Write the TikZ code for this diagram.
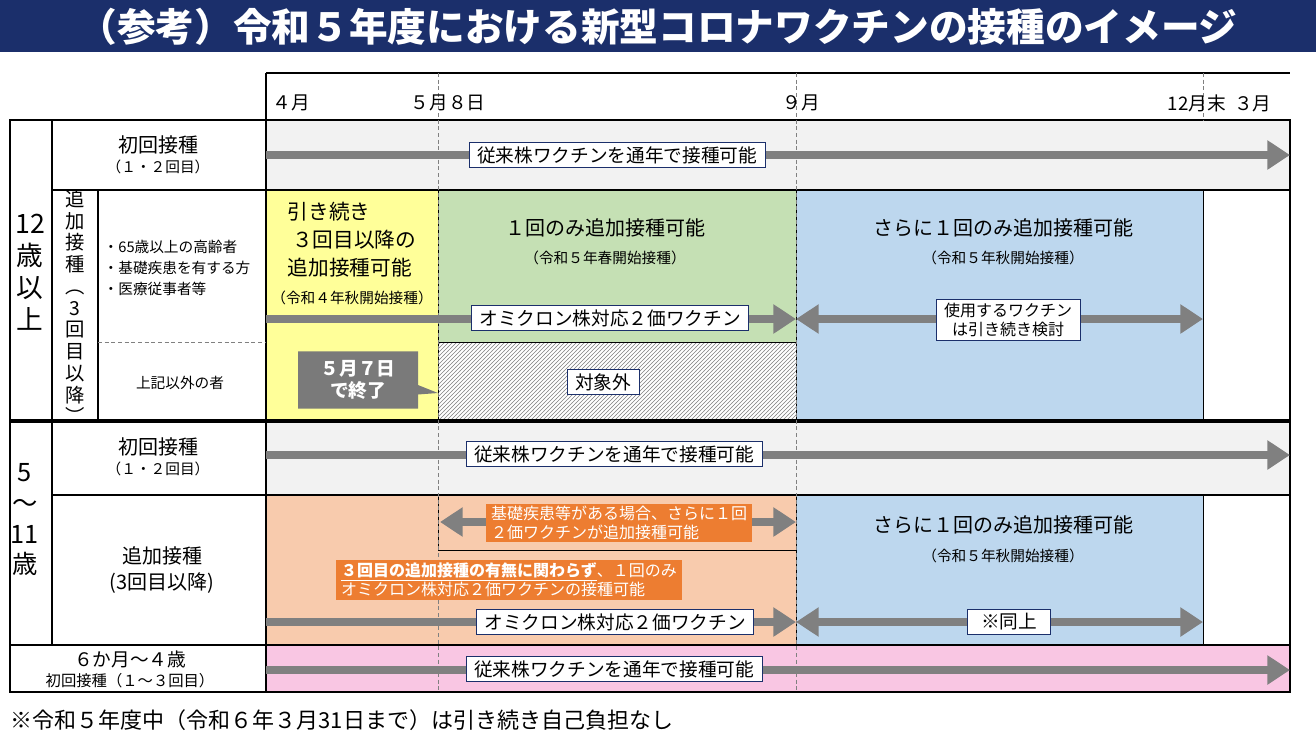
\documentclass[tikz,border=0pt]{standalone}
\usepackage{fontspec}
\setmainfont{Noto Sans CJK JP}
\usetikzlibrary{arrows.meta,patterns,shapes.callouts}
\definecolor{navy}{HTML}{1B2F6B}
\definecolor{lgray}{HTML}{F2F2F2}
\definecolor{ayel}{HTML}{FFFF99}
\definecolor{agrn}{HTML}{C5E0B4}
\definecolor{ablu}{HTML}{BDD7EE}
\definecolor{aorg}{HTML}{F8CBAD}
\definecolor{dorg}{HTML}{ED7D31}
\definecolor{apnk}{HTML}{F9C6E3}
\definecolor{agry}{HTML}{808080}
\tikzset{
  flow/.style={draw=agry,line width=5.5pt,-{Triangle[length=17pt,width=21pt]}},
  flows/.style={draw=agry,line width=5.5pt,{Triangle[length=17pt,width=21pt]}-{Triangle[length=17pt,width=21pt]}},
  lbl/.style={draw=navy,fill=white,inner xsep=6pt,inner ysep=3pt,font=\fontsize{14}{16}\selectfont},
  obox/.style={fill=dorg,text=white,inner xsep=4pt,inner ysep=2pt,align=left,font=\fontsize{12}{14}\selectfont},
  txt/.style={font=\fontsize{14}{17}\selectfont,align=center},
  sml/.style={font=\fontsize{11}{13}\selectfont,align=center},
  grid/.style={line width=1pt},
  tick/.style={densely dashed,line width=.5pt,draw=agry}
}
\begin{document}
\begin{tikzpicture}[x=0.75pt,y=-0.75pt]
  \useasboundingbox (0,0) rectangle (1316,739);
  % title
  \fill[navy] (0,0) rectangle (1316,52);
  \node (title) [text=white,font=\fontsize{29}{30}\selectfont\bfseries] at (658,27)
    {（参考）令和５年度における新型コロナワクチンの接種のイメージ};
  % coloured areas
  \fill[lgray] (266,120) rectangle (1290,190);
  \fill[ayel] (266,190) rectangle (438,420);
  \fill[agrn] (438,190) rectangle (796,342);
  \fill[ablu] (796,190) rectangle (1203,420);
  \fill[lgray] (266,422) rectangle (1290,495);
  \fill[aorg] (266,495) rectangle (796,645);
  \fill[ablu] (796,495) rectangle (1203,645);
  \fill[apnk] (266,645) rectangle (1290,692);
  \fill[white] (438,342) rectangle (796,420);
  \fill[pattern=north east lines,pattern color=agry] (438,342) rectangle (796,420);
  \draw[line width=.6pt] (438,342) rectangle (796,420);
  \draw[line width=.6pt] (438,190) rectangle (796,342);
  \draw[line width=.6pt] (796,190) rectangle (1203,420);
  \draw[line width=.6pt] (266,190) rectangle (438,420);
  \draw[line width=.6pt] (438,495) rectangle (796,550);
  \draw[line width=.6pt] (796,495) rectangle (1203,645);
  % grid
  \draw[grid] (266,73) -- (1290,73) (266,73) -- (266,120);
  \draw[grid] (10,120) rectangle (1290,692);
  \draw[grid] (10,120) -- (266,120) (10,420) -- (1290,420) (10,422) -- (1290,422);
  \draw[grid] (52,190) -- (1290,190) (52,495) -- (1290,495) (10,645) -- (1290,645);
  \draw[grid] (52,120) -- (52,645) (266,120) -- (266,692) (98,190) -- (98,420);
  \draw[densely dashed,agry] (98,342) -- (266,342);
  \foreach \x in {438,796} \draw[tick] (\x,73) -- (\x,692);
  \draw[tick] (1203,73) -- (1203,120);
  % months
  \foreach \x/\m in {268/４月,406/５月８日,778/９月,1163/12月末\ \ ３月}
    \node[txt,anchor=west] at (\x,103) {\m};
  % left labels
  \node (a12) [font=\fontsize{20}{24}\selectfont,align=center] at (30,272) {12\\歳\\以\\上};
  \node (a5) [font=\fontsize{19}{23}\selectfont,align=center] at (25,520) {5\\～\\11\\歳};
  \node (r1) [txt,font=\fontsize{15}{17}\selectfont] at (158,155) {初回接種\\[-2pt]{\fontsize{11}{12}\selectfont（１・２回目）}};
  \node (r3) [txt,font=\fontsize{15}{17}\selectfont] at (158,457) {初回接種\\[-2pt]{\fontsize{11}{12}\selectfont（１・２回目）}};
  \node (r2) [font=\fontsize{14.5}{16.3}\selectfont,align=center] at (75,307) {追\\加\\接\\種\\︵\\3\\回\\目\\以\\降\\︶};
  \node (tgt) [font=\fontsize{11}{16}\selectfont,align=left,anchor=west] at (99,268)
    {・65歳以上の高齢者\\・基礎疾患を有する方\\・医療従事者等};
  \node (oth) [sml] at (180,383) {上記以外の者};
  \node (r4) [txt,font=\fontsize{15}{19}\selectfont] at (162,570) {追加接種\\(3回目以降)};
  \node (r5) [txt] at (130,669) {６か月～４歳\\[-2pt]{\fontsize{11.5}{12}\selectfont 初回接種（１～３回目）}};
  % area texts
  \node (ylw) [font=\fontsize{15.5}{21}\selectfont,align=left] at (352,240) {引き続き\\\ ３回目以降の\\追加接種可能};
  \node [sml] at (352,298) {（令和４年秋開始接種）};
  \node (grn) [font=\fontsize{15}{17}\selectfont] at (605,228) {１回のみ追加接種可能};
  \node [sml] at (605,258) {（令和５年春開始接種）};
  \node (blu) [font=\fontsize{15}{17}\selectfont] at (1003,228) {さらに１回のみ追加接種可能};
  \node [sml] at (1003,258) {（令和５年秋開始接種）};
  \node (blu2) [font=\fontsize{15}{17}\selectfont] at (1003,525) {さらに１回のみ追加接種可能};
  \node [sml] at (1003,556) {（令和５年秋開始接種）};
  % arrows
  \coordinate (s1) at (266,155); \coordinate (e1) at (1290,155);
  \draw[flow] (s1) -- (e1);
  \node (l1) [lbl] at (617,155) {従来株ワクチンを通年で接種可能};
  \coordinate (s2) at (266,319); \coordinate (m2) at (796,319); \coordinate (e2) at (1203,319);
  \draw[flow] (s2) -- (m2);
  \draw[flows] (m2) -- (e2);
  \node (l2) [lbl] at (610,318) {オミクロン株対応２価ワクチン};
  \node (l2b) [lbl,align=center,font=\fontsize{12}{14}\selectfont] at (1008,320) {使用するワクチン\\は引き続き検討};
  \node (end) [rectangle callout,fill=agry!95!black,text=white,font=\fontsize{14}{17}\selectfont\bfseries,
    align=center,minimum width=90pt,minimum height=43pt,callout absolute pointer={(438,393)}] at (358,380) {５月７日\\で終了};
  \node (out) [lbl] at (603,382) {対象外};
  \coordinate (s3) at (266,455); \coordinate (e3) at (1290,455);
  \draw[flow] (s3) -- (e3);
  \node (l3) [lbl] at (614,454) {従来株ワクチンを通年で接種可能};
  \coordinate (s4) at (440,522); \coordinate (e4) at (796,522);
  \draw[flows] (s4) -- (e4);
  \node (l4) [obox] at (619,523) {基礎疾患等がある場合、さらに１回\\２価ワクチンが追加接種可能};
  \node (l4b) [obox] at (509,580) {\underline{\bfseries ３回目の追加接種の有無に関わらず}、１回のみ\\オミクロン株対応２価ワクチンの接種可能};
  \coordinate (s5) at (266,622); \coordinate (m5) at (796,622); \coordinate (e5) at (1203,622);
  \draw[flow] (s5) -- (m5);
  \draw[flows] (m5) -- (e5);
  \node (l5) [lbl] at (615,622) {オミクロン株対応２価ワクチン};
  \node (l5b) [lbl,minimum width=62pt] at (1009,622) {※同上};
  \coordinate (s6) at (266,670); \coordinate (e6) at (1290,670);
  \draw[flow] (s6) -- (e6);
  \node (l6) [lbl] at (614,669) {従来株ワクチンを通年で接種可能};
  % note
  \node (note) [anchor=west,font=\fontsize{16.5}{19}\selectfont] at (6,720)
    {※令和５年度中（令和６年３月31日まで）は引き続き自己負担なし};
\end{tikzpicture}
\end{document}
